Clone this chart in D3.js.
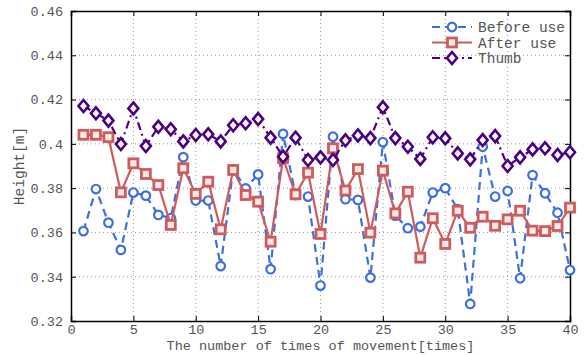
<!doctype html>
<html lang="en">
<head>
    <meta charset="utf-8"/>
    <title>Height per movement</title>
    <script src="https://d3js.org/d3.v7.min.js"></script>
    <style>
        body {
            margin: 0;
            padding: 0;
            background: #fff;
        }

        svg text {
            font-family: "Liberation Mono", "Courier New", Courier, "Nimbus Mono PS", FreeMono, "DejaVu Sans Mono", monospace;
            fill: #555;
        }
    </style>
</head>
<body>
<script>
    // datos
    const times = d3.range(1, 41)

    const beforeUse = [
        0.3606, 0.3796, 0.3644, 0.3521, 0.3780, 0.3766, 0.3679, 0.3665, 0.3940, 0.3744,
        0.3744, 0.3448, 0.3885, 0.3799, 0.3862, 0.3434, 0.4045, 0.3769, 0.3762, 0.3360,
        0.4032, 0.3750, 0.3747, 0.3396, 0.4008, 0.3676, 0.3619, 0.3626, 0.3780, 0.3800,
        0.3705, 0.3277, 0.3987, 0.3762, 0.3787, 0.3393, 0.3859, 0.3777, 0.3689, 0.3430
    ]

    const afterUse = [
        0.4041, 0.4041, 0.4030, 0.3781, 0.3912, 0.3864, 0.3814, 0.3634, 0.3890, 0.3774,
        0.3829, 0.3614, 0.3882, 0.3769, 0.3739, 0.3558, 0.3935, 0.3772, 0.3870, 0.3593,
        0.3980, 0.3789, 0.3886, 0.3599, 0.3879, 0.3686, 0.3784, 0.3486, 0.3664, 0.3548,
        0.3698, 0.3621, 0.3671, 0.3630, 0.3659, 0.3698, 0.3608, 0.3606, 0.3629, 0.3712
    ]

    const thumb = [
        0.4171, 0.4138, 0.4105, 0.3999, 0.4160, 0.3990, 0.4077, 0.4066, 0.4011, 0.4040,
        0.4043, 0.4011, 0.4084, 0.4093, 0.4112, 0.4028, 0.3942, 0.4028, 0.3927, 0.3939,
        0.3927, 0.4016, 0.4038, 0.4026, 0.4165, 0.4026, 0.3987, 0.3932, 0.4030, 0.4025,
        0.3957, 0.3930, 0.4017, 0.4035, 0.3900, 0.3939, 0.3975, 0.3980, 0.3950, 0.3962
    ]

    const xTicks = [0, 5, 10, 15, 20, 25, 30, 35, 40]
    const yTicks = [0.32, 0.34, 0.36, 0.38, 0.40, 0.42, 0.44, 0.46]
    const yTickLabels = ['0.32', '0.34', '0.36', '0.38', '0.4', '0.42', '0.44', '0.46']

    const series = [
        {name: 'Before use', values: beforeUse, color: '#3e6ee0', dash: '8,5', marker: 'circle'},
        {name: 'After use', values: afterUse, color: '#cd5c5c', dash: null, marker: 'square'},
        {name: 'Thumb', values: thumb, color: '#4b0082', dash: '8,4,2,4', marker: 'diamond'}
    ]

    const width = 585, height = 355
    const margin = {top: 11, right: 15, bottom: 34, left: 71}
    const innerW = width - margin.left - margin.right
    const innerH = height - margin.top - margin.bottom

    const svg = d3.select('body')
        .append('svg')
        .attr('width', width)
        .attr('height', height)

    const g = svg.append('g')
        .attr('transform', 'translate(' + margin.left + ',' + margin.top + ')')

    const x = d3.scaleLinear().domain([0, 40]).range([0, innerW])
    const y = d3.scaleLinear().domain([0.32, 0.46]).range([innerH, 0])

    // rejilla punteada
    g.append('g')
        .selectAll('line')
        .data(xTicks.slice(1, -1))
        .enter()
        .append('line')
        .attr('x1', d => x(d)).attr('x2', d => x(d))
        .attr('y1', 0).attr('y2', innerH)
        .attr('stroke', '#999')
        .attr('stroke-width', 1)
        .attr('stroke-dasharray', '1,3')

    g.append('g')
        .selectAll('line')
        .data(yTicks.slice(1, -1))
        .enter()
        .append('line')
        .attr('x1', 0).attr('x2', innerW)
        .attr('y1', d => y(d)).attr('y2', d => y(d))
        .attr('stroke', '#999')
        .attr('stroke-width', 1)
        .attr('stroke-dasharray', '1,3')

    // ejes con ticks hacia adentro
    const xAxis = g.append('g')
        .attr('transform', 'translate(0,' + innerH + ')')
        .call(d3.axisBottom(x).tickValues(xTicks).tickSize(-5).tickPadding(3))
    const xAxisTop = g.append('g')
        .call(d3.axisTop(x).tickValues(xTicks).tickSize(-5).tickFormat(''))
    const yAxis = g.append('g')
        .call(d3.axisLeft(y).tickValues(yTicks).tickSize(-5).tickPadding(8)
            .tickFormat((d, i) => yTickLabels[i]))
    const yAxisRight = g.append('g')
        .attr('transform', 'translate(' + innerW + ',0)')
        .call(d3.axisRight(y).tickValues(yTicks).tickSize(-5).tickFormat(''))

    ;[xAxis, xAxisTop, yAxis, yAxisRight].forEach(function (a) {
        a.attr('font-family', null)
        a.select('.domain').attr('stroke', '#000').attr('stroke-width', 1.5)
        a.selectAll('.tick line').attr('stroke', '#000')
        a.selectAll('text')
            .style('font-size', '13.5px')
            .attr('fill', '#555')
    })

    // titulos
    svg.append('text')
        .attr('x', margin.left + innerW / 2)
        .attr('y', 350)
        .attr('text-anchor', 'middle')
        .style('font-size', '13.5px')
        .text('The number of times of movement[times]')

    svg.append('text')
        .attr('transform', 'translate(24,' + (margin.top + innerH / 2) + ') rotate(-90)')
        .attr('text-anchor', 'middle')
        .style('font-size', '14.5px')
        .text('Height[m]')

    const line = d3.line()
        .x((d, i) => x(times[i]))
        .y(d => y(d))

    const diamond = 'M0,-6L5,0L0,6L-5,0Z'

    function drawMarker(sel, s) {
        if (s.marker === 'circle') {
            sel.append('circle')
                .attr('r', 4.3)
                .attr('fill', 'white')
                .attr('stroke', s.color)
                .attr('stroke-width', 2.2)
        } else if (s.marker === 'square') {
            sel.append('rect')
                .attr('x', -4.5).attr('y', -4.5)
                .attr('width', 9).attr('height', 9)
                .attr('fill', '#fbeaea')
                .attr('stroke', s.color)
                .attr('stroke-width', 2.8)
        } else {
            sel.append('path')
                .attr('d', diamond)
                .attr('fill', 'white')
                .attr('stroke', s.color)
                .attr('stroke-width', 2.6)
        }
    }

    series.forEach(function (s) {
        g.append('path')
            .datum(s.values)
            .attr('fill', 'none')
            .attr('stroke', s.color)
            .attr('stroke-width', 2.2)
            .attr('stroke-dasharray', s.dash)
            .attr('d', line)

        g.append('g')
            .selectAll('g')
            .data(s.values)
            .enter()
            .append('g')
            .attr('transform', (d, i) => 'translate(' + x(times[i]) + ',' + y(d) + ')')
            .each(function () {
                drawMarker(d3.select(this), s)
            })
    })

    // leyenda
    const legend = svg.append('g')
        .attr('transform', 'translate(432,27)')

    series.forEach(function (s, i) {
        const row = legend.append('g')
            .attr('transform', 'translate(0,' + (i * 15.5) + ')')
        row.append('line')
            .attr('x1', 0).attr('x2', 40)
            .attr('y1', 0).attr('y2', 0)
            .attr('stroke', s.color)
            .attr('stroke-width', 2.2)
            .attr('stroke-dasharray', s.dash)
        const m = row.append('g').attr('transform', 'translate(20,0)')
        drawMarker(m, s)
        row.append('text')
            .attr('x', 46)
            .attr('y', 5)
            .style('font-size', '14.5px')
            .text(s.name)
    })
</script>
</body>
</html>
